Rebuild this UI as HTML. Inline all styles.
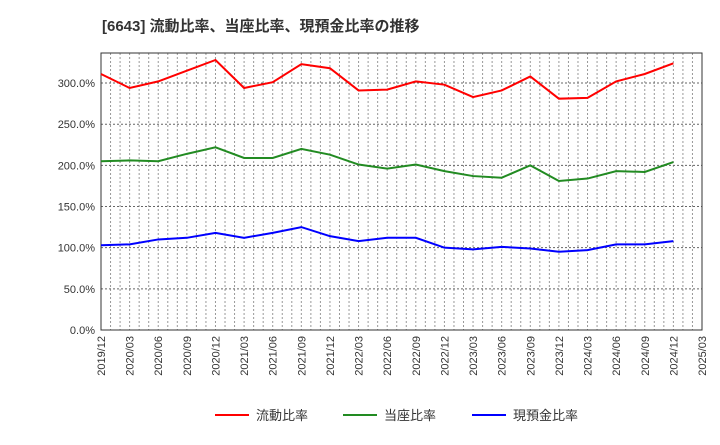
<!DOCTYPE html>
<html><head><meta charset="utf-8"><style>
body{margin:0;background:#fff;font-family:"Liberation Sans","Noto Sans CJK JP",sans-serif;}
</style></head><body>
<svg width="720" height="440" xmlns="http://www.w3.org/2000/svg" id="c">
<text x="102" y="31" font-size="15" font-weight="bold" fill="#333">[6643]  流動比率、当座比率、現預金比率の推移</text>
</svg>
<script>
const quarters=["2019/12","2020/03","2020/06","2020/09","2020/12","2021/03","2021/06","2021/09","2021/12","2022/03","2022/06","2022/09","2022/12","2023/03","2023/06","2023/09","2023/12","2024/03","2024/06","2024/09","2024/12","2025/03"];
const yTicks=[0,50,100,150,200,250,300];
const current=[311,294,302,315,328,294,301,323,318,291,292,302,298,283,291,308,281,282,302,311,324];
const quick=[205,206,205,214,222,209,209,220,213,201,196,201,193,187,185,200,181,184,193,192,204];
const cash=[103,104,110,112,118,112,118,125,114,108,112,112,100,98,101,99,95,97,104,104,108];
const svg=document.getElementById('c');const NS="http://www.w3.org/2000/svg";
const L=101,R=702,T=53,B=330,YMAX=336.5;
const xq=i=>L+(R-L)*i/(quarters.length-1);
const y=v=>B-(B-T)*v/YMAX;
function el(t,a){const e=document.createElementNS(NS,t);for(const k in a)e.setAttribute(k,a[k]);svg.appendChild(e);return e;}
for(let m=0;m<=(quarters.length-1)*3;m++){const x=L+(R-L)*m/((quarters.length-1)*3);
const g=el('line',{x1:x,x2:x,y1:T,y2:B,stroke:'#999','stroke-dasharray':'2,2','stroke-width':1});

}
yTicks.forEach(v=>{const g=el('line',{x1:L,x2:R,y1:y(v),y2:y(v),stroke:'#666','stroke-dasharray':'2,2','stroke-width':1});


const t=el('text',{x:L-6,y:y(v)+4,'font-size':11,'text-anchor':'end',fill:'#333'});t.textContent=v.toFixed(1)+'%';

});
quarters.forEach((q,i)=>{const x=xq(i);const t=el('text',{x:x+4,y:B+6,'font-size':11,'text-anchor':'end',fill:'#333',transform:`rotate(-90 ${x+4} ${B+6})`});t.textContent=q;

});
const fr=el('rect',{x:L,y:T,width:R-L,height:B-T,fill:'none',stroke:'#333','stroke-width':1});


[[current,'#ff0000','current-ratio-line'],[quick,'#228b22','quick-ratio-line'],[cash,'#0000ff','cash-ratio-line']].forEach(([d,c,n])=>{
const p=el('polyline',{points:d.map((v,i)=>xq(i)+','+y(v)).join(' '),fill:'none',stroke:c,'stroke-width':2});

});
[['流動比率','#ff0000',215],['当座比率','#228b22',343],['現預金比率','#0000ff',472]].forEach(([l,c,x])=>{
const g=el('line',{x1:x,x2:x+34,y1:415,y2:415,stroke:c,'stroke-width':2});


const t=el('text',{x:x+41,y:420,'font-size':13,fill:'#333'});t.textContent=l;

});
</script>
</body></html>
